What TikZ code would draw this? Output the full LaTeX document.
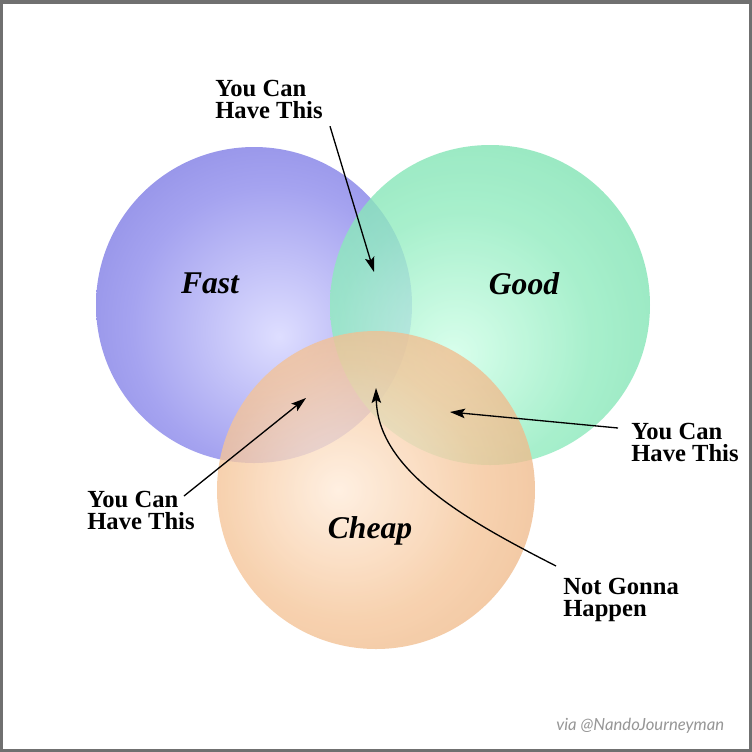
\documentclass[tikz,border=0pt]{standalone}
\usepackage{fontspec}
\setmainfont{Liberation Serif}
\newfontfamily\creditfont{Lato}
\usetikzlibrary{arrows.meta}
\definecolor{fastin}{RGB}{222,222,255}
\definecolor{fastmid}{RGB}{165,163,240}
\definecolor{fastout}{RGB}{110,108,212}
\definecolor{goodin}{RGB}{208,255,232}
\definecolor{goodmid}{RGB}{146,236,192}
\definecolor{goodout}{RGB}{92,208,154}
\definecolor{cheapin}{RGB}{255,236,218}
\definecolor{cheapmid}{RGB}{246,198,154}
\definecolor{cheapout}{RGB}{220,154,98}
\definecolor{framegray}{RGB}{112,112,112}
\definecolor{creditgray}{RGB}{150,150,150}
\pgfdeclareradialshading{fastshade}{\pgfpoint{4bp}{-5bp}}{color(0bp)=(fastin); color(22bp)=(fastmid); color(52bp)=(fastout); color(62bp)=(fastout)}
\pgfdeclareradialshading{goodshade}{\pgfpoint{-6bp}{-8bp}}{color(0bp)=(goodin); color(20bp)=(goodmid); color(54bp)=(goodout); color(64bp)=(goodout)}
\pgfdeclareradialshading{cheapshade}{\pgfpoint{-6bp}{0bp}}{color(0bp)=(cheapin); color(20bp)=(cheapmid); color(54bp)=(cheapout); color(64bp)=(cheapout)}
\begin{document}
\begin{tikzpicture}[x=0.02cm, y=-0.02cm, every node/.style={inner sep=0pt},
  venn/.style={font=\bfseries\itshape\fontsize{18}{20}\selectfont, anchor=base},
  note/.style={font=\bfseries\fontsize{14}{12.5}\selectfont, align=left, anchor=north west},
  pointer/.style={-{Stealth[length=3mm,width=1.9mm,inset=0.6mm]}, line width=0.75pt}]
\useasboundingbox (0,0) rectangle (752,752);
\fill[white] (0,0) rectangle (752,752);
\shade[shading=fastshade] (254,305) circle[radius=158];
\shade[shading=goodshade, opacity=0.8] (490,305) circle[radius=160];
\shade[shading=cheapshade, opacity=0.78] (376,490) circle[radius=159];
\node[venn] (fast) at (210,293) {Fast};
\node[venn] (good) at (524,294) {Good};
\node[venn] (cheap) at (370,538) {Cheap};
\node[note] (ntop) at (215,80) {You Can\\Have This};
\node[note] (nleft) at (87,491) {You Can\\Have This};
\node[note] (nright) at (631,423) {You Can\\Have This};
\node[note] (nnot) at (563,578) {Not Gonna\\Happen};
\coordinate (tfastgood) at (374,272);
\coordinate (tfastcheap) at (306,398);
\coordinate (tgoodcheap) at (450,412);
\coordinate (tall) at (376,388);
\draw[pointer] ([shift={(7,7)}]ntop.south east) -- (tfastgood);
\draw[pointer] ([shift={(-11,5)}]nleft.north east) -- (tfastcheap);
\draw[pointer] ([shift={(-13,5)}]nright.north west) -- (tgoodcheap);
\draw[pointer] ([shift={(-7,-12)}]nnot.north west) .. controls (470,522) and (378,472) .. (tall);
\node[font=\creditfont\itshape\fontsize{9.5}{11}\selectfont, text=creditgray, anchor=base west] (credit) at (556,730) {via @NandoJourneyman};
\draw[line width=0.07cm, framegray] (1.75,1.75) rectangle (750.25,750.25);
\end{tikzpicture}
\end{document}
